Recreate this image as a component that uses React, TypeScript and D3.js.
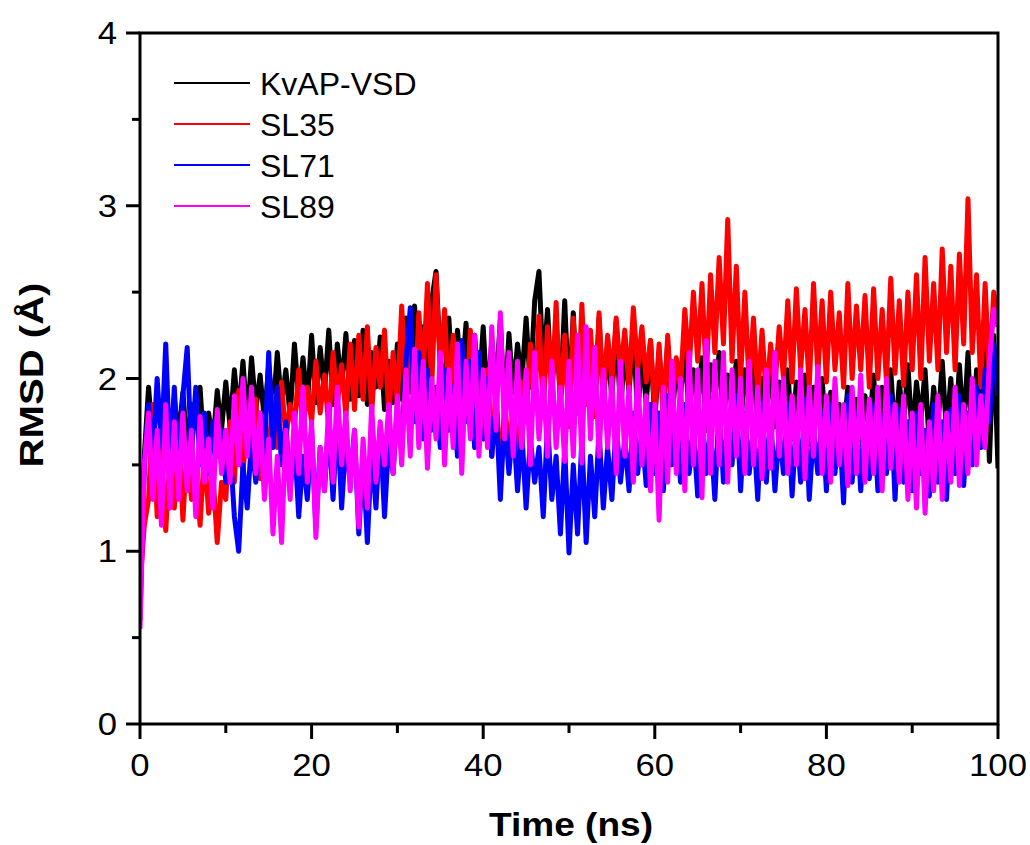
import React from "react";
import * as d3 from "d3";

// Sampled every 0.5 ns from 0 to 100 ns
const TIME_STEP_NS = 0.5;

const KVAP_VSD = [
  0.60, 1.55, 1.95, 1.62, 1.90, 1.70, 1.97, 1.58, 1.88, 1.66,
  1.92, 1.60, 1.85, 1.72, 1.95, 1.55, 1.80, 1.62, 1.93, 1.70,
  1.98, 1.72, 2.05, 1.78, 2.10, 1.75, 2.12, 1.82, 2.02, 1.76,
  2.08, 1.80, 2.15, 1.85, 2.05, 1.78, 2.20, 1.88, 2.12, 1.84,
  2.25, 1.86, 2.18, 1.92, 2.28, 1.85, 2.20, 1.95, 2.26, 1.88,
  2.22, 1.90, 2.28, 1.85, 2.15, 1.95, 2.24, 1.82, 2.10, 1.86,
  2.20, 1.88, 2.35, 1.92, 2.42, 1.95, 2.30, 2.00, 2.45, 2.62,
  2.10, 1.95, 2.35, 1.88, 2.28, 1.98, 2.32, 1.85, 2.25, 1.92,
  2.30, 1.85, 2.22, 1.95, 2.34, 1.80, 2.26, 1.92, 2.20, 1.98,
  2.35, 1.95, 2.45, 2.62, 2.05, 2.40, 1.92, 2.30, 1.88, 2.45,
  1.85, 2.38, 1.80, 2.30, 1.90, 2.25, 1.78, 2.35, 1.85, 2.20,
  1.88, 2.33, 1.80, 2.18, 1.92, 2.28, 1.78, 2.15, 1.85, 2.22,
  1.75, 2.15, 1.85, 2.20, 1.72, 2.10, 1.90, 2.18, 1.78, 2.05,
  1.85, 2.12, 1.70, 2.08, 1.88, 2.15, 1.75, 2.02, 1.82, 2.10,
  1.72, 2.05, 1.85, 2.12, 1.68, 2.00, 1.80, 2.08, 1.72, 1.98,
  1.80, 2.05, 1.65, 1.98, 1.75, 2.02, 1.62, 1.95, 1.78, 2.00,
  1.60, 1.92, 1.55, 1.85, 1.68, 1.95, 1.52, 1.88, 1.62, 1.90,
  1.70, 2.02, 1.62, 1.95, 1.75, 2.05, 1.65, 1.98, 1.72, 2.08,
  1.65, 1.98, 1.75, 2.05, 1.60, 1.95, 1.72, 2.10, 1.68, 2.00,
  1.62, 2.08, 1.70, 2.15, 1.58, 2.05, 1.75, 2.20, 1.52, 2.25,
  1.48,
];

const SL35 = [
  0.80, 1.15, 1.30, 1.85, 1.20, 1.60, 1.12, 1.55, 1.25, 1.70,
  1.18, 1.62, 1.30, 1.50, 1.15, 1.58, 1.22, 1.45, 1.05, 1.40,
  1.30, 1.75, 1.40, 1.93, 1.45, 1.80, 1.50, 1.88, 1.42, 1.78,
  1.55, 1.90, 1.60, 1.98, 1.65, 1.85, 1.72, 2.05, 1.68, 1.95,
  1.75, 2.10, 1.80, 2.02, 1.72, 2.15, 1.85, 2.08, 1.78, 2.20,
  1.82, 2.25, 1.88, 2.30, 1.80, 2.18, 1.95, 2.28, 1.78, 2.15,
  1.85, 2.42, 1.90, 2.30, 1.82, 2.38, 2.00, 2.55, 1.95, 2.60,
  2.05, 2.40, 1.85, 2.25, 1.92, 2.20, 1.78, 2.28, 1.85, 2.15,
  1.65, 2.05, 1.55, 1.95, 1.42, 1.85, 1.60, 1.80, 1.48, 1.98,
  1.75, 2.20, 1.85, 2.36, 1.80, 2.30, 1.90, 2.44, 1.82, 2.25,
  1.72, 2.35, 1.80, 2.43, 1.85, 2.28, 1.78, 2.38, 1.90, 2.25,
  1.98, 2.35, 2.02, 2.28, 1.95, 2.41, 2.05, 2.30, 1.98, 2.22,
  1.80, 2.20, 1.75, 2.25, 1.85, 2.12, 1.95, 2.40, 2.05, 2.50,
  2.10, 2.55, 2.00, 2.60, 2.15, 2.70, 2.20, 2.92, 2.10, 2.65,
  2.00, 2.50, 1.95, 2.35, 1.90, 2.28, 1.88, 2.20, 1.95, 2.30,
  2.00, 2.45, 1.98, 2.52, 2.05, 2.40, 1.95, 2.55, 2.02, 2.45,
  1.98, 2.50, 2.05, 2.38, 1.95, 2.55, 2.00, 2.42, 2.05, 2.48,
  1.95, 2.52, 2.00, 2.40, 1.98, 2.58, 2.03, 2.45, 1.96, 2.50,
  2.05, 2.60, 2.00, 2.70, 2.10, 2.55, 2.05, 2.75, 2.15, 2.65,
  2.05, 2.72, 2.20, 3.04, 2.15, 2.60, 1.95, 2.55, 2.00, 2.50,
  2.30,
];

const SL71 = [
  0.70, 1.50, 1.85, 1.55, 2.00, 1.60, 2.20, 1.50, 1.95, 1.45,
  1.90, 2.18, 1.55, 1.95, 1.50, 1.80, 1.45, 1.75, 1.55, 1.70,
  1.40, 1.60, 1.20, 1.00, 1.50, 1.25, 1.65, 1.40, 1.80, 1.55,
  2.15, 1.60, 1.95, 1.50, 1.75, 1.35, 1.65, 1.20, 1.55, 1.30,
  1.70, 1.14, 1.60, 1.35, 1.75, 1.30, 1.80, 1.25, 1.65, 1.40,
  1.70, 1.10, 1.55, 1.05, 1.60, 1.25, 1.72, 1.20, 1.65, 1.45,
  1.85, 1.60, 2.10, 2.41, 1.75, 2.15, 1.65, 2.05, 1.70, 1.95,
  1.60, 2.05, 1.70, 1.95, 1.55, 2.22, 1.75, 2.10, 1.60, 2.15,
  1.65, 2.00, 1.55, 1.85, 1.30, 1.80, 1.45, 1.75, 1.35, 1.70,
  1.25, 1.65, 1.40, 1.60, 1.20, 1.75, 1.30, 1.55, 1.10, 1.60,
  0.99, 1.50, 1.10, 1.65, 1.05, 1.55, 1.20, 1.70, 1.25, 1.60,
  1.30, 1.75, 1.40, 1.65, 1.35, 1.80, 1.45, 1.70, 1.38, 1.85,
  1.45, 1.80, 1.35, 1.90, 1.50, 1.75, 1.40, 1.85, 1.45, 1.70,
  1.32, 1.80, 1.45, 1.70, 1.30, 1.85, 1.40, 1.75, 1.50, 1.90,
  1.35, 1.80, 1.45, 1.72, 1.30, 1.85, 1.40, 1.78, 1.35, 1.70,
  1.45, 1.85, 1.32, 1.75, 1.40, 1.88, 1.30, 1.70, 1.45, 1.80,
  1.35, 1.85, 1.45, 1.75, 1.28, 1.90, 1.40, 1.80, 1.35, 1.72,
  1.42, 1.85, 1.35, 1.78, 1.45, 1.90, 1.30, 1.82, 1.40, 1.75,
  1.35, 1.80, 1.45, 1.70, 1.32, 1.85, 1.40, 1.75, 1.30, 1.82,
  1.45, 1.90, 1.38, 1.80, 1.50, 1.95, 1.60, 2.05, 1.75, 2.20,
  1.90,
];

const SL89 = [
  0.55, 1.50, 1.80, 1.30, 1.70, 1.15, 1.85, 1.25, 1.75, 1.30,
  1.80, 1.35, 1.70, 1.20, 1.78, 1.40, 1.65, 1.25, 1.82, 1.45,
  1.70, 1.40, 1.90, 1.50, 2.00, 1.55, 1.95, 1.45, 1.80, 1.30,
  1.65, 1.10, 1.55, 1.05, 1.70, 1.30, 1.80, 1.45, 1.95, 1.40,
  1.75, 1.08, 1.60, 1.35, 1.85, 1.40, 1.95, 1.50, 1.80, 1.35,
  1.70, 1.14, 1.65, 1.25, 1.84, 1.40, 1.75, 1.50, 1.85, 1.45,
  1.90, 1.50, 2.05, 1.55, 2.17, 1.60, 2.10, 1.48, 2.00, 1.65,
  2.15, 1.50, 2.05, 1.60, 2.20, 1.45, 2.10, 1.65, 2.25, 1.55,
  2.05, 1.60, 2.30, 1.70, 2.38, 1.65, 2.15, 1.55, 2.10, 1.60,
  2.05, 1.50, 2.15, 1.65, 2.00, 1.55, 2.10, 1.60, 1.95, 1.52,
  2.10, 1.55, 2.25, 1.51, 2.30, 1.65, 2.18, 1.55, 2.05, 1.60,
  2.00, 1.45, 2.10, 1.55, 1.95, 1.40, 2.05, 1.50, 1.90, 1.35,
  1.85, 1.18, 1.95, 1.40, 2.10, 1.45, 2.00, 1.35, 2.15, 1.50,
  2.05, 1.31, 2.22, 1.45, 2.10, 1.50, 2.15, 1.40, 2.05, 1.55,
  2.00, 1.45, 2.10, 1.50, 1.95, 1.42, 2.05, 1.48, 2.15, 1.55,
  2.00, 1.45, 1.90, 1.50, 2.05, 1.42, 1.95, 1.55, 2.07, 1.45,
  1.90, 1.40, 2.00, 1.50, 1.85, 1.38, 1.95, 1.45, 2.02, 1.40,
  1.88, 1.45, 1.95, 1.35, 2.00, 1.48, 1.85, 1.40, 1.90, 1.30,
  1.80, 1.25, 1.85, 1.22, 1.75, 1.35, 1.90, 1.30, 1.80, 1.40,
  1.95, 1.38, 1.85, 1.45, 2.00, 1.50, 1.90, 1.60, 2.10, 2.40,
  2.30,
];

const SERIES_NAMES = ["KvAP-VSD", "SL35", "SL71", "SL89"];
const SERIES_VALUES = [KVAP_VSD, SL35, SL71, SL89];
const SERIES_COLORS = ["#000000", "#ff0000", "#0000ff", "#ff00ff"];

const X_TICKS = [0, 20, 40, 60, 80, 100];
const X_MINOR = [10, 30, 50, 70, 90];
const Y_TICKS = [0, 1, 2, 3, 4];
const Y_MINOR = [0.5, 1.5, 2.5, 3.5];

const W = 1030;
const H = 845;
const M = { left: 140, right: 998, top: 33, bottom: 724 };
const FONT = "Arial, 'Liberation Sans', Helvetica, sans-serif";

export default function App() {
  const x = d3.scaleLinear().domain([0, 100]).range([M.left, M.right]);
  const y = d3.scaleLinear().domain([0, 4]).range([M.bottom, M.top]);

  const line = d3
    .line<number>()
    .x((_, i) => x(i * TIME_STEP_NS))
    .y((d) => y(d));

  return (
    <svg
      width={W}
      height={H}
      style={{ position: "absolute", left: 0, top: 0, background: "#fff" }}
      fontFamily={FONT}
    >
      <rect x={0} y={0} width={W} height={H} fill="#fff" />
      <defs>
        <clipPath id="plot">
          <rect x={M.left} y={M.top} width={M.right - M.left} height={M.bottom - M.top} />
        </clipPath>
      </defs>

      <g clipPath="url(#plot)">
        {SERIES_VALUES.map((vals, k) => (
          <path
            key={SERIES_NAMES[k]}
            d={line(vals) || ""}
            fill="none"
            stroke={SERIES_COLORS[k]}
            strokeWidth={5}
            strokeLinejoin="round"
          />
        ))}
      </g>

      {/* frame */}
      <rect
        x={M.left}
        y={M.top}
        width={M.right - M.left}
        height={M.bottom - M.top}
        fill="none"
        stroke="#000"
        strokeWidth={3}
      />

      {/* x ticks */}
      {X_TICKS.map((t) => (
        <g key={"xt" + t}>
          <line x1={x(t)} x2={x(t)} y1={M.bottom} y2={M.bottom + 15} stroke="#000" strokeWidth={3} />
          <g transform={`translate(${x(t)},${776}) scale(1.12,1)`}>
            <text textAnchor="middle" fontSize={31} fill="#000">
              {t}
            </text>
          </g>
        </g>
      ))}
      {X_MINOR.map((t) => (
        <line key={"xm" + t} x1={x(t)} x2={x(t)} y1={M.bottom} y2={M.bottom + 9} stroke="#000" strokeWidth={3} />
      ))}

      {/* y ticks */}
      {Y_TICKS.map((t) => (
        <g key={"yt" + t}>
          <line x1={M.left - 14} x2={M.left} y1={y(t)} y2={y(t)} stroke="#000" strokeWidth={3} />
          <g transform={`translate(${117},${y(t) + 11}) scale(1.12,1)`}>
            <text textAnchor="end" fontSize={31} fill="#000">
              {t}
            </text>
          </g>
        </g>
      ))}
      {Y_MINOR.map((t) => (
        <line key={"ym" + t} x1={M.left - 8} x2={M.left} y1={y(t)} y2={y(t)} stroke="#000" strokeWidth={3} />
      ))}

      {/* axis titles */}
      <text
        x={571}
        y={836}
        textAnchor="middle"
        fontSize={34}
        fontWeight="bold"
        fill="#000"
        textLength={164}
        lengthAdjust="spacingAndGlyphs"
      >
        Time (ns)
      </text>
      <text
        transform={`translate(${43},${375}) rotate(-90)`}
        textAnchor="middle"
        fontSize={34}
        fontWeight="bold"
        fill="#000"
        textLength={185}
        lengthAdjust="spacingAndGlyphs"
      >
        RMSD (Å)
      </text>

      {/* legend */}
      {SERIES_NAMES.map((name, k) => {
        const ly = 83 + k * 41;
        return (
          <g key={"lg" + name}>
            <line x1={174} x2={250} y1={ly} y2={ly} stroke={SERIES_COLORS[k]} strokeWidth={2} />
            <text x={260} y={ly + 12} fontSize={32} fill="#000">
              {name}
            </text>
          </g>
        );
      })}
    </svg>
  );
}
